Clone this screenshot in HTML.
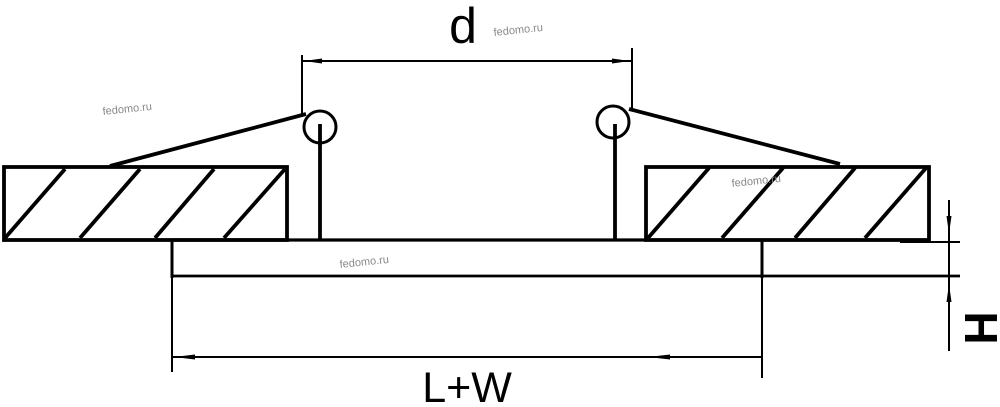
<!DOCTYPE html>
<html><head><meta charset="utf-8"><style>html,body{margin:0;padding:0;background:#fff;}svg{display:block}</style></head>
<body>
<svg width="1000" height="407" viewBox="0 0 1000 407" xmlns="http://www.w3.org/2000/svg">
<g stroke="#000" fill="none" stroke-width="3.8">
<rect x="4" y="167" width="283" height="73"/>
<rect x="646" y="167" width="283" height="73"/>
<line x1="5" y1="238" x2="65" y2="169"/>
<line x1="80" y1="238" x2="140" y2="169"/>
<line x1="155" y1="238" x2="214" y2="169"/>
<line x1="224" y1="238" x2="285" y2="169"/>
<line x1="648" y1="238" x2="709" y2="168"/>
<line x1="722" y1="238" x2="783" y2="168"/>
<line x1="795" y1="238" x2="855" y2="168"/>
<line x1="865" y1="238" x2="926" y2="168"/>
<line x1="110" y1="166" x2="306" y2="114"/>
<line x1="629" y1="109" x2="840" y2="164"/>
<circle cx="320" cy="127" r="16" stroke-width="3"/>
<circle cx="613" cy="122" r="16" stroke-width="3"/>
<line x1="320" y1="124" x2="320" y2="240"/>
<line x1="615" y1="124" x2="615" y2="240"/>
<line x1="172" y1="240" x2="172" y2="278" stroke-width="3"/>
<line x1="762" y1="240" x2="762" y2="278" stroke-width="3"/>
<line x1="172" y1="240" x2="646" y2="240" stroke-width="3.2"/>
<line x1="172" y1="276" x2="960" y2="276" stroke-width="2.8"/>
<line x1="900" y1="242" x2="960" y2="242" stroke-width="2"/>
</g>
<g stroke="#000" fill="none" stroke-width="2">
<line x1="302" y1="55" x2="302" y2="117"/>
<line x1="632" y1="48" x2="632" y2="110"/>
<line x1="302" y1="61" x2="632" y2="61"/>
<line x1="172" y1="278" x2="172" y2="372"/>
<line x1="762" y1="278" x2="762" y2="378"/>
<line x1="172" y1="357" x2="762" y2="357"/>
<line x1="949" y1="200" x2="949" y2="351"/>
</g>
<g fill="#000">
<polygon points="304,61 322,58.5 322,63.5"/>
<polygon points="630,61 612,58.5 612,63.5"/>
<polygon points="174,357 195,354.5 195,359.5"/>
<polygon points="648,357 670,354.5 670,359.5"/>
<polygon points="949,234 946.5,216 951.5,216"/>
<polygon points="949,284 946.5,302 951.5,302"/>
</g>
<text x="463" y="43" font-family="Liberation Sans, sans-serif" font-size="50" text-anchor="middle">d</text>
<text x="467" y="402" font-family="Liberation Sans, sans-serif" font-size="43" text-anchor="middle">L+W</text>
<text transform="translate(965,328) rotate(90)" font-family="Liberation Sans, sans-serif" font-size="46" font-weight="bold" text-anchor="middle">H</text>
<g font-family="Liberation Sans, sans-serif" font-size="11" fill="#888">
<text x="494" y="36" transform="rotate(-6 494 36)">fedomo.ru</text>
<text x="103" y="115" transform="rotate(-6 103 115)">fedomo.ru</text>
<text x="732" y="187" transform="rotate(-6 732 187)">fedomo.ru</text>
<text x="340" y="268" transform="rotate(-6 340 268)">fedomo.ru</text>
</g>
</svg>
</body></html>
